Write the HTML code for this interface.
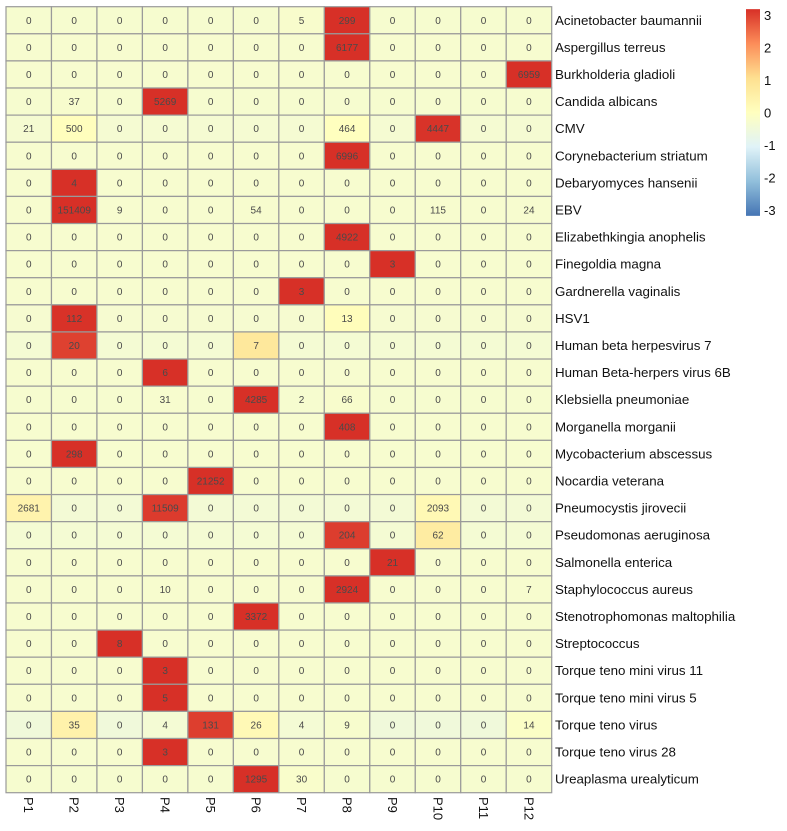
<!DOCTYPE html>
<html><head><meta charset="utf-8"><style>
html,body{margin:0;padding:0;background:#fff;}
svg{display:block;font-family:"Liberation Sans",Arial,sans-serif;}
</style></head><body>
<svg id="chart" width="787" height="831" viewBox="0 0 787 831"></svg>
<script>
const samples = ["P1","P2","P3","P4","P5","P6","P7","P8","P9","P10","P11","P12"];
const organisms = ["Acinetobacter baumannii","Aspergillus terreus","Burkholderia gladioli","Candida albicans","CMV","Corynebacterium striatum","Debaryomyces hansenii","EBV","Elizabethkingia anophelis","Finegoldia magna","Gardnerella vaginalis","HSV1","Human beta herpesvirus 7","Human Beta-herpers virus 6B","Klebsiella pneumoniae","Morganella morganii","Mycobacterium abscessus","Nocardia veterana","Pneumocystis jirovecii","Pseudomonas aeruginosa","Salmonella enterica","Staphylococcus aureus","Stenotrophomonas maltophilia","Streptococcus","Torque teno mini virus 11","Torque teno mini virus 5","Torque teno virus","Torque teno virus 28","Ureaplasma urealyticum"];
const counts = [
[0,0,0,0,0,0,5,299,0,0,0,0],
[0,0,0,0,0,0,0,6177,0,0,0,0],
[0,0,0,0,0,0,0,0,0,0,0,6959],
[0,37,0,5269,0,0,0,0,0,0,0,0],
[21,500,0,0,0,0,0,464,0,4447,0,0],
[0,0,0,0,0,0,0,6996,0,0,0,0],
[0,4,0,0,0,0,0,0,0,0,0,0],
[0,151409,9,0,0,54,0,0,0,115,0,24],
[0,0,0,0,0,0,0,4922,0,0,0,0],
[0,0,0,0,0,0,0,0,3,0,0,0],
[0,0,0,0,0,0,3,0,0,0,0,0],
[0,112,0,0,0,0,0,13,0,0,0,0],
[0,20,0,0,0,7,0,0,0,0,0,0],
[0,0,0,6,0,0,0,0,0,0,0,0],
[0,0,0,31,0,4285,2,66,0,0,0,0],
[0,0,0,0,0,0,0,408,0,0,0,0],
[0,298,0,0,0,0,0,0,0,0,0,0],
[0,0,0,0,21252,0,0,0,0,0,0,0],
[2681,0,0,11509,0,0,0,0,0,2093,0,0],
[0,0,0,0,0,0,0,204,0,62,0,0],
[0,0,0,0,0,0,0,0,21,0,0,0],
[0,0,0,10,0,0,0,2924,0,0,0,7],
[0,0,0,0,0,3372,0,0,0,0,0,0],
[0,0,8,0,0,0,0,0,0,0,0,0],
[0,0,0,3,0,0,0,0,0,0,0,0],
[0,0,0,5,0,0,0,0,0,0,0,0],
[0,35,0,4,131,26,4,9,0,0,0,14],
[0,0,0,3,0,0,0,0,0,0,0,0],
[0,0,0,0,0,1295,30,0,0,0,0,0]
];
const legendTicks = [3,2,1,0,-1,-2,-3];

const NS="http://www.w3.org/2000/svg";
const svg=document.getElementById('chart');
const X0=6, Y0=6.7, CW=(551.7-6)/12, RH=(792.7-6.7)/29;
const pal=["#4575B4","#91BFDB","#E0F3F8","#FFFFBF","#FEE090","#FC8D59","#D73027"];
const ZMAX=3.18;
function hex(h){return [1,3,5].map(i=>parseInt(h.substr(i,2),16));}
function colorFor(z){
  z=Math.max(-ZMAX,Math.min(ZMAX,z));
  const t=(z+ZMAX)/(2*ZMAX)*(pal.length-1);
  const i=Math.min(pal.length-2,Math.floor(t)), f=t-i;
  const a=hex(pal[i]), b=hex(pal[i+1]);
  return "rgb("+a.map((v,k)=>Math.round(v+(b[k]-v)*f)).join(",")+")";
}
function mk(tag,attrs,parent){const e=document.createElementNS(NS,tag);for(const k in attrs)e.setAttribute(k,attrs[k]);(parent||svg).appendChild(e);return e;}
const xPos=c=>X0+c*CW, yPos=r=>Y0+r*RH;

const cells=mk('g',{});


counts.forEach((row,r)=>{
  const n=row.length, mean=row.reduce((a,b)=>a+b,0)/n;
  const sd=Math.sqrt(row.reduce((a,b)=>a+(b-mean)*(b-mean),0)/(n-1))||1;
  row.forEach((v,c)=>{
    const rect=mk('rect',{x:xPos(c),y:yPos(r),width:CW,height:RH,fill:colorFor((v-mean)/sd),stroke:"#9a9a9a","stroke-width":1.2},cells);
    
    
    const t=mk('text',{x:xPos(c)+CW/2,y:yPos(r)+RH/2+3.5,"text-anchor":"middle","font-size":10,fill:"#4a4a4a"},cells);
    
    
    t.textContent=v;
  });
});
organisms.forEach((o,r)=>{
  const t=mk('text',{x:555,y:yPos(r)+RH/2+4.5,"font-size":13.35,fill:"#111"});
  
  
  t.textContent=o;
});
samples.forEach((s,c)=>{
  const cx=xPos(c)+CW/2-4.5, y=797;
  const t=mk('text',{x:cx,y:y,"font-size":13,fill:"#111",transform:"rotate(90 "+cx+" "+y+")"});
  
  
  t.textContent=s;
});
const defs=mk('defs',{});
const lg=mk('linearGradient',{id:"lg",x1:0,y1:1,x2:0,y2:0},defs);
pal.forEach((p,i)=>mk('stop',{offset:(i/(pal.length-1)),"stop-color":p},lg));
const LY=(v)=>112.5-v*32.5;
const bar=mk('rect',{x:746,y:LY(ZMAX),width:14,height:LY(-ZMAX)-LY(ZMAX),fill:"url(#lg)"});


legendTicks.forEach(v=>{
  const t=mk('text',{x:764,y:LY(v)+5,"font-size":13,fill:"#111"});
  
  
  t.textContent=v;
});
</script>
</body></html>
